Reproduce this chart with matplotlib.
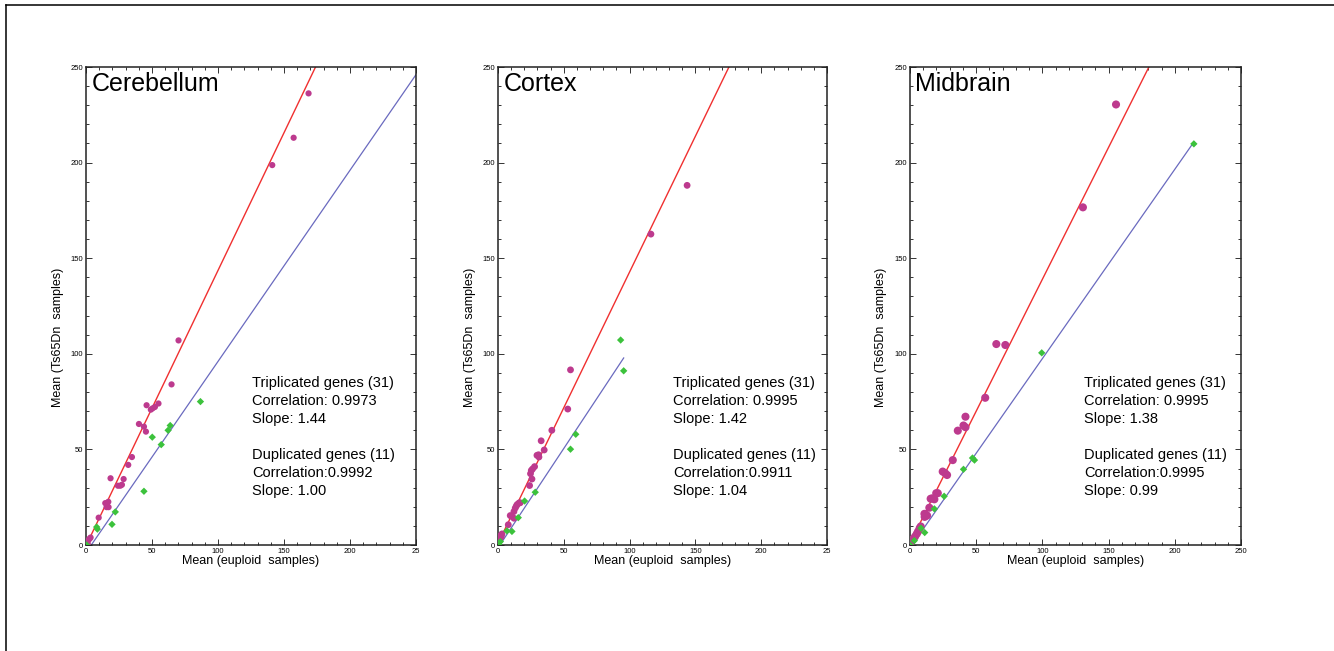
import numpy as np
import matplotlib
matplotlib.use("Agg")
import matplotlib.pyplot as plt
from matplotlib.lines import Line2D
from matplotlib.ticker import MultipleLocator

plt.rcParams['font.family'] = ['Liberation Sans', 'DejaVu Sans']

regions = ["Cerebellum", "Cortex", "Midbrain"]

# triplicated genes (31 per region), (euploid mean, Ts65Dn mean)
cb_tri_x = [168.6, 157.3, 141.1, 70.1, 64.8, 45.9, 54.9, 52.2, 49.1, 40.1, 43.9,
            45.4, 34.8, 32.0, 18.6, 28.5, 27.2, 24.2, 16.9, 14.6, 15.6, 17.1,
            9.6, 3.5, 2.0, 0.8, 15.8, 26.0, 2.8, 1.3, 50.5]
cb_tri_y = [236.2, 213.0, 198.7, 107.0, 84.0, 73.1, 74.0, 72.2, 70.8, 63.3, 61.9,
            59.3, 46.0, 41.9, 34.9, 34.5, 31.5, 31.0, 22.6, 21.9, 19.8, 19.8,
            14.3, 3.9, 2.7, 1.2, 21.2, 31.0, 3.4, 0.8, 71.5]
ct_tri_x = [143.7, 116.2, 55.1, 53.0, 40.9, 32.8, 35.1, 30.8, 31.1, 27.8, 26.3,
            24.7, 25.8, 24.0, 16.9, 14.6, 13.1, 12.1, 9.3, 12.1, 7.8, 3.0,
            1.8, 1.3, 10.4, 13.9, 25.3, 29.6, 2.5, 0.8, 16.0]
ct_tri_y = [188.1, 162.6, 91.6, 71.1, 60.0, 54.5, 49.7, 47.2, 46.0, 41.0, 39.8,
            37.3, 34.5, 31.1, 22.1, 21.2, 19.3, 17.5, 15.4, 14.0, 10.6, 5.8,
            4.8, 2.7, 15.0, 20.4, 39.0, 46.9, 4.4, 1.8, 22.0]
mb_tri_x = [155.6, 130.6, 65.2, 72.0, 56.8, 41.9, 40.4, 41.9, 36.1, 32.3, 24.7,
            28.0, 21.0, 18.4, 16.9, 14.6, 10.9, 12.9, 11.1, 8.1, 7.3, 5.1,
            3.8, 2.5, 1.0, 26.5, 19.8, 15.6, 11.9, 6.1, 1.8]
mb_tri_y = [230.4, 176.6, 105.1, 104.6, 77.0, 67.1, 62.5, 61.6, 59.8, 44.4, 38.4,
            36.6, 27.1, 23.9, 24.4, 19.5, 16.3, 15.4, 14.7, 9.7, 8.8, 5.8,
            4.4, 3.2, 1.8, 37.6, 27.1, 24.2, 15.9, 7.1, 2.6]

# duplicated genes (11 per region)
cb_dup_x = [86.7, 63.8, 62.2, 50.2, 57.0, 43.9, 22.2, 19.7, 8.6, 8.1, 0.5]
cb_dup_y = [75.0, 62.5, 60.0, 56.4, 52.5, 28.1, 17.3, 10.8, 8.3, 9.4, 0.0]
ct_dup_x = [93.2, 95.5, 59.1, 55.1, 28.3, 20.2, 15.4, 10.6, 6.8, 0.5, 1.8]
ct_dup_y = [107.2, 91.1, 57.9, 50.1, 27.6, 23.0, 14.3, 7.1, 7.4, 0.5, 1.8]
mb_dup_x = [214.4, 99.5, 48.7, 47.2, 40.4, 25.8, 18.4, 11.1, 8.3, 3.3, 0.0]
mb_dup_y = [209.8, 100.5, 44.4, 45.5, 39.6, 25.5, 18.9, 6.5, 8.8, 2.3, 0.0]

# fitted lines: slope, intercept, x start, x end
tri_fit = [(1.44, -0.4, 0.3, 174.0), (1.42, 0.8, 0.0, 175.5), (1.38, 1.0, 0.0, 180.4)]
dup_fit = [(1.00, -4.0, 4.0, 250.0), (1.04, -1.5, 1.5, 95.5), (0.99, -1.5, 1.5, 214.4)]

tri_n = [31, 31, 31]
dup_n = [11, 11, 11]
tri_corr = ["0.9973", "0.9995", "0.9995"]
dup_corr = ["0.9992", "0.9911", "0.9995"]
tri_slope = ["1.44", "1.42", "1.38"]
dup_slope = ["1.00", "1.04", "0.99"]

tri_x = [cb_tri_x, ct_tri_x, mb_tri_x]
tri_y = [cb_tri_y, ct_tri_y, mb_tri_y]
dup_x = [cb_dup_x, ct_dup_x, mb_dup_x]
dup_y = [cb_dup_y, ct_dup_y, mb_dup_y]

xtick_labels = [["0", "50", "100", "150", "200", "25"],
                ["0", "50", "100", "150", "200", "25"],
                ["0", "50", "100", "150", "200", "250"]]

W, H = 1334, 651
fig = plt.figure(figsize=(W / 100, H / 100), dpi=100)
fig.patch.set_facecolor("white")

# outer frame (top and left only)
fig.add_artist(Line2D([6 / W, 1], [1 - 5 / H, 1 - 5 / H], color="black", lw=1.1))
fig.add_artist(Line2D([6 / W, 6 / W], [0, 1 - 5 / H], color="black", lw=1.1))

lefts = [86, 498, 910]
widths = [330, 329, 331]
text_x = [126, 133, 131.5]
tri_size = [20, 24, 34]

magenta = "#bd3a8e"
green = "#3cc23c"
red = "#f03030"
blue = "#6a6abf"

for i, name in enumerate(regions):
    ax = fig.add_axes([lefts[i] / W, 1 - 545 / H, widths[i] / W, 478 / H])
    ax.set_xlim(0, 250)
    ax.set_ylim(0, 250)

    s, b, x0, x1 = tri_fit[i]
    xx = np.array([x0, x1])
    ax.plot(xx, s * xx + b, color=red, lw=1.0, zorder=2)
    s, b, x0, x1 = dup_fit[i]
    xx = np.array([x0, x1])
    ax.plot(xx, s * xx + b, color=blue, lw=0.9, zorder=2)

    ax.scatter(tri_x[i], tri_y[i], s=tri_size[i], color=magenta, edgecolors="none", zorder=3)
    ax.scatter(dup_x[i], dup_y[i], s=14, marker="D", color=green, edgecolors="none", zorder=3)

    ax.set_xticks([0, 50, 100, 150, 200, 250])
    ax.set_xticklabels(xtick_labels[i])
    ax.set_yticks([0, 50, 100, 150, 200, 250])
    ax.xaxis.set_minor_locator(MultipleLocator(10))
    ax.yaxis.set_minor_locator(MultipleLocator(10))
    ax.tick_params(which="both", direction="in", top=True, right=True,
                   labelsize=5.5, pad=2, width=0.7, color="#333333")
    ax.tick_params(which="major", length=4)
    ax.tick_params(which="minor", length=2)
    for sp in ax.spines.values():
        sp.set_linewidth(1.1)
        sp.set_color("#222222")

    ax.set_xlabel("Mean (euploid  samples)", fontsize=9)
    ax.xaxis.set_label_coords(0.5, -0.021)
    ax.set_ylabel("Mean (Ts65Dn  samples)", fontsize=9)
    ax.yaxis.set_label_coords(-0.068, 0.435)

    ax.text(0.016, 0.99, name, transform=ax.transAxes, fontsize=18,
            ha="left", va="top")

    lines = ["Triplicated genes (%d)" % tri_n[i],
             "Correlation: " + tri_corr[i],
             "Slope: " + tri_slope[i],
             "Duplicated genes (%d)" % dup_n[i],
             "Correlation:" + dup_corr[i],
             "Slope: " + dup_slope[i]]
    base_px = [387, 405, 423, 459, 477, 495]
    for ln, py in zip(lines, base_px):
        ax.text(text_x[i], (545 - py) / 478 * 250, ln, fontsize=10.5,
                ha="left", va="baseline")

fig.savefig("out.png", dpi=100, facecolor="white")
